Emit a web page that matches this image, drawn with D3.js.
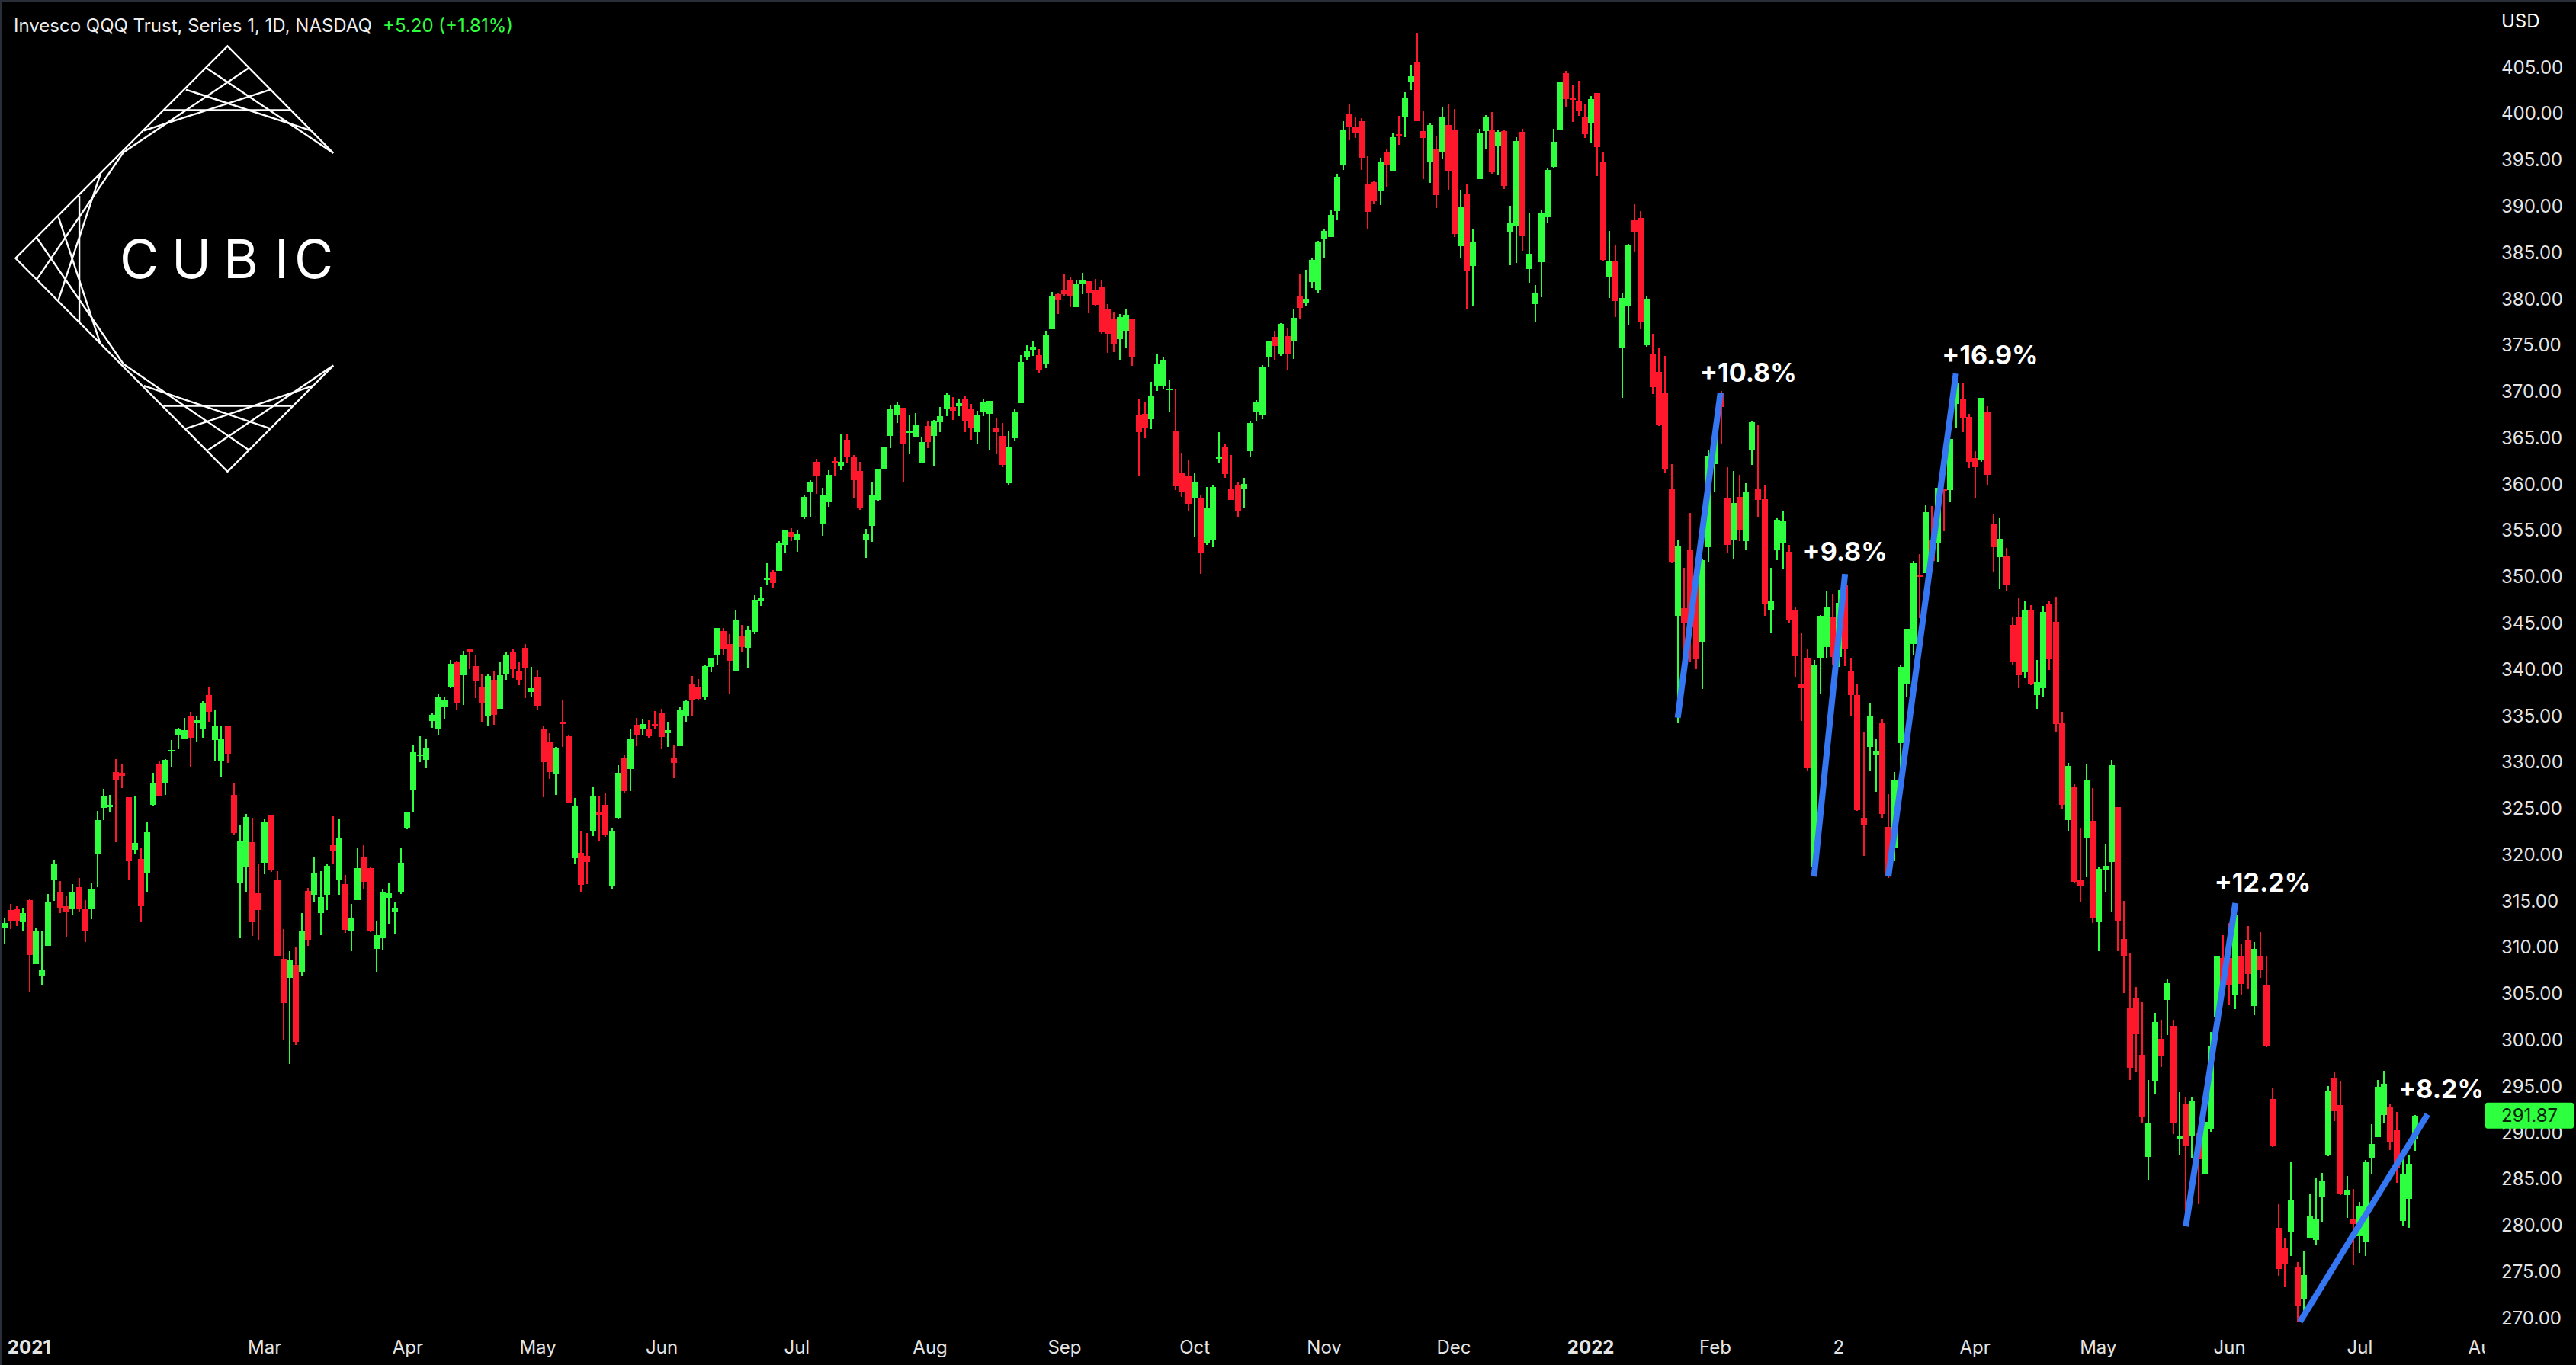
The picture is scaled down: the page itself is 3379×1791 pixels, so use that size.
<!DOCTYPE html>
<html>
<head>
<meta charset="utf-8">
<script src="https://cdn.jsdelivr.net/npm/d3@7"></script>
<style>
html,body{margin:0;padding:0;background:#000;}
svg{display:block;}
text{font-family:Inter,"Liberation Sans",sans-serif;}
</style>
</head>
<body>
<svg id="chart" width="3379" height="1791"></svg>
<script>
const titleText = "Invesco QQQ Trust, Series 1, 1D, NASDAQ";
const changeText = "+5.20 (+1.81%)";
const currency = "USD";
const lastPrice = 291.87;

const highs = [
313.15,314.71,314.47,314.21,315.29,312.15,311.83,315.82,319.41,317.17,
315.53,316.85,317.5,315.12,316.94,324.75,327.13,326.49,330.34,329.78,
326.22,326.4,320.73,323.52,328.87,330.19,330.34,332.39,333.71,334.77,
335.45,335.04,336.59,338.15,335.68,333.89,333.95,327.78,323.2,324.43,
324.02,319.08,323.93,324.34,318.26,312.0,309.62,310.03,313.74,316.44,
319.82,318.26,318.99,324.17,323.84,317.85,314.71,320.73,321.05,318.67,
312.91,316.35,317.03,314.88,320.73,324.67,331.83,332.8,332.48,335.27,
337.33,337.09,341.03,340.96,342.03,342.19,341.62,339.56,339.48,339.89,
340.79,341.94,342.19,340.87,342.77,340.3,339.97,333.89,333.13,331.66,
336.68,332.98,326.13,322.61,322.37,327.31,326.4,326.63,322.85,329.65,
330.82,333.65,334.79,334.6,334.53,335.52,335.78,334.38,331.81,336.04,
336.66,339.3,338.97,340.44,341.29,344.48,344.48,343.82,346.39,344.81,
344.66,348.04,348.92,351.49,350.72,353.88,355.02,355.28,355.09,358.91,
360.45,362.77,359.61,361.52,362.91,365.45,365.45,363.17,362.44,355.17,
360.27,361.59,363.98,368.5,368.94,368.28,367.43,367.69,365.12,366.88,
366.95,368.35,369.89,369.41,369.23,369.56,368.68,367.95,369.16,369.01,
367.17,366.62,365.71,368.17,373.94,375.01,375.42,374.6,376.58,380.77,
380.6,382.74,382.33,382.0,382.83,381.92,382.17,382.0,379.45,378.63,
378.38,378.88,377.89,369.23,368.83,371.07,374.02,373.75,371.23,370.33,
363.42,362.69,361.29,358.84,359.7,359.97,365.67,364.32,363.15,360.32,
360.67,366.88,369.09,372.86,375.5,376.55,377.4,376.93,378.84,382.76,
383.15,384.43,386.25,387.61,389.55,393.55,399.18,401.0,399.6,399.57,
395.41,392.77,395.26,396.19,397.97,399.76,402.32,405.27,408.73,400.27,
398.98,397.55,400.77,401.12,400.5,391.76,392.38,387.61,398.4,399.84,
400.19,398.28,398.32,390.06,397.47,398.4,389.24,381.51,389.55,394.17,
398.4,403.49,404.61,403.06,403.56,401.04,401.93,402.28,395.92,387.34,
385.79,380.7,385.98,390.25,389.47,380.35,376.24,374.68,373.87,362.17,
353.94,351.01,356.92,352.1,352.01,363.64,365.52,370.05,361.87,361.45,
361.03,360.15,366.78,366.45,359.98,351.01,356.33,357.09,353.48,346.81,
344.0,342.19,341.06,345.93,348.49,348.11,348.61,350.21,341.27,338.5,
333.21,336.36,332.46,334.6,326.59,328.93,340.43,344.42,351.76,352.47,
357.76,357.68,359.65,359.57,364.89,371.19,370.98,367.62,363.59,369.34,
368.46,356.71,356.33,353.1,345.72,347.69,347.48,346.98,341.06,346.85,
347.48,347.86,335.48,329.94,327.59,322.85,329.81,327.21,318.69,321.15,
330.25,325.15,315.02,309.36,305.75,304.09,295.73,302.95,302.2,306.55,
302.2,294.42,293.78,293.78,290.3,291.16,300.88,309.13,311.36,312.62,
314.62,310.33,312.33,310.62,311.65,309.01,294.87,282.28,278.62,286.82,
276.05,277.2,283.45,285.18,285.67,295.05,296.53,295.62,285.34,283.94,
282.54,287.07,290.93,295.71,296.69,293.07,292.25,287.23,287.56,291.89];

const lows = [
310.39,312.03,312.36,311.74,305.19,308.24,305.98,310.18,315.03,313.74,
311.18,313.56,313.88,310.59,313.06,316.53,323.76,324.67,321.38,327.22,
317.35,320.05,312.74,316.03,325.31,326.31,326.49,329.51,331.42,332.57,
329.51,332.16,332.66,334.36,330.19,328.37,329.92,322.2,311.0,315.94,
311.27,310.86,317.91,318.17,309.04,300.07,297.43,299.49,306.89,310.18,
314.88,311.33,314.06,319.08,315.71,311.59,309.62,315.12,316.35,311.68,
307.39,309.68,312.5,311.5,315.79,322.79,324.67,330.01,329.37,333.71,
332.89,334.71,338.0,335.68,336.18,340.05,336.93,334.36,333.95,334.04,
335.77,338.9,339.15,338.33,336.93,337.01,335.68,326.22,328.19,326.49,
331.66,325.58,318.99,316.03,316.85,322.02,321.46,321.96,316.28,323.85,
326.63,326.89,331.74,332.95,332.66,333.65,331.41,331.67,328.29,331.74,
334.38,335.04,336.66,336.77,339.71,340.44,341.54,337.43,339.89,341.87,
340.15,343.82,346.87,349.18,348.85,350.65,352.63,353.88,352.71,356.27,
356.49,358.99,354.43,357.55,360.86,361.52,362.25,358.47,357.22,352.05,
353.77,358.14,361.67,363.91,366.62,360.2,363.25,365.12,362.33,363.91,
362.0,365.63,367.36,366.95,367.36,365.63,364.82,364.31,367.36,363.72,
363.25,361.85,359.94,364.71,368.76,373.37,373.86,371.97,372.54,376.74,
378.38,380.36,379.12,379.12,380.52,378.47,379.21,376.25,374.19,374.27,
373.37,374.68,372.79,360.93,365.01,365.96,370.06,370.26,367.77,359.39,
358.61,357.06,354.38,350.34,353.49,353.18,362.26,360.67,358.3,356.52,
357.41,362.98,366.88,367.03,372.7,373.44,373.87,372.39,373.52,377.9,
379.26,381.17,380.7,384.46,386.68,388.5,393.94,397.16,397.35,393.94,
387.53,390.25,390.13,392.11,393.74,396.65,397.47,402.56,399.18,392.93,
392.54,389.82,395.18,391.8,386.68,384.39,378.87,379.3,392.93,396.23,
393.51,393.36,391.88,383.65,383.88,385.2,381.75,377.48,380.19,388.27,
394.17,398.21,400.77,399.1,399.76,397.39,396.89,393.28,384.08,380.12,
378.06,369.32,377.25,385.05,376.74,374.88,369.75,366.26,361.21,351.47,
334.18,340.77,340.77,340.05,337.91,351.59,359.15,364.35,352.52,352.01,
353.9,352.85,362.08,356.5,345.8,343.91,351.8,350.79,345.0,339.21,
334.43,329.14,318.02,337.41,341.31,340.56,340.26,340.35,334.98,324.74,
319.91,329.1,326.79,323.98,317.48,319.28,329.02,337.07,341.52,345.59,
350.42,351.68,351.63,354.95,358.1,366.03,365.61,361.75,358.6,362.46,
359.94,350.59,348.7,348.53,340.56,337.99,339.09,338.29,335.77,337.07,
339.97,333.26,324.95,322.51,316.93,314.96,317.56,312.62,309.58,315.94,
313.88,309.58,305.06,295.73,296.53,291.04,284.97,294.13,297.11,300.54,
289.84,287.6,279.93,287.26,282.28,285.54,290.12,302.49,305.46,303.75,
303.34,304.89,305.58,302.72,306.72,299.28,288.46,274.55,273.35,276.68,
269.55,269.96,278.6,277.91,280.32,287.48,291.26,283.31,280.82,275.72,
277.03,276.7,285.59,289.54,291.1,288.14,284.6,280.0,279.75,288.06];

const opens = [
312.15,314.06,314.15,312.74,315.12,308.24,306.89,310.18,317.26,315.94,
314.47,314.15,316.53,314.15,314.15,320.05,325.08,325.17,328.96,328.87,
326.22,320.55,319.55,317.99,325.4,329.84,327.72,331.16,332.98,332.57,
334.95,334.21,333.63,337.24,332.39,330.19,333.89,326.49,316.94,318.67,
321.38,315.85,319.14,324.25,317.26,308.8,306.74,308.12,307.39,316.12,
315.71,313.74,315.71,321.05,317.35,316.85,311.74,315.12,319.73,318.58,
309.86,311.0,315.38,313.8,316.03,322.93,327.05,330.66,330.25,334.45,
333.63,335.95,338.15,340.87,339.39,342.19,340.38,338.16,335.04,338.9,
335.77,339.56,341.94,339.81,342.36,337.58,339.23,333.54,332.25,328.69,
334.36,332.8,319.64,320.23,319.91,322.52,324.58,325.4,316.61,323.99,
330.42,329.28,334.05,333.54,333.65,334.13,335.26,333.13,330.49,331.74,
334.93,338.38,338.17,337.1,340.3,341.62,344.15,342.76,339.89,343.67,
342.35,344.08,347.42,349.66,350.5,350.65,353.44,354.84,353.96,356.42,
359.21,362.44,355.68,358.07,362.51,361.92,364.82,362.99,361.45,353.96,
355.5,358.32,361.67,365.23,367.43,368.28,365.56,365.12,362.33,366.29,
365.23,366.7,368.09,368.35,368.42,369.23,368.17,365.63,367.84,367.61,
366.11,365.23,360.12,364.97,368.76,373.78,374.52,373.94,373.04,376.74,
380.52,381.0,382.0,379.12,381.59,381.92,381.0,381.26,378.96,377.89,
375.67,376.57,377.81,367.43,367.61,367.03,370.65,370.57,370.14,365.72,
361.21,360.94,358.57,358.57,353.64,354.03,362.76,364.08,359.54,359.89,
359.47,363.58,367.77,367.54,373.71,375.93,374.1,376.0,375.5,380.27,
379.54,381.83,381.01,386.52,386.68,389.47,394.44,400.03,398.63,399.18,
392.46,392.62,391.72,395.92,393.78,397.78,399.68,403.41,405.62,398.13,
394.83,396.15,395.84,398.79,398.29,385.71,391.3,383.57,392.93,398.13,
398.32,396.58,398.09,387.26,387.88,398.05,383.22,379.46,383.96,388.81,
394.25,398.21,404.38,401.74,401.35,399.68,398.95,402.24,394.75,382.33,
384.08,374.8,379.3,388.5,388.74,375.03,374.02,372.12,369.83,359.48,
345.8,346.64,352.89,349.58,343.0,353.19,362.17,369.8,358.56,354.03,
358.64,353.9,363.72,359.57,358.39,346.39,352.85,353.69,352.73,346.39,
338.5,341.31,318.74,341.27,342.44,345.72,341.4,349.16,339.8,337.24,
324.03,331.66,330.82,334.31,323.06,320.84,332.08,338.37,342.74,350.21,
350.42,354.03,353.69,359.57,359.36,368.67,369.26,367.29,362.84,362.67,
367.87,355.7,352.14,352.31,344.84,345.72,339.72,346.47,337.24,337.96,
347.14,345.17,334.31,323.73,327.42,317.23,321.8,323.67,312.73,318.4,
319.26,325.15,310.9,303.46,304.49,298.42,287.38,295.62,300.14,304.32,
301.57,289.26,293.1,289.61,290.01,285.6,290.35,302.49,308.9,308.9,
304.83,309.01,310.73,303.69,309.01,305.92,293.67,279.71,277.53,279.34,
275.55,272.1,278.68,278.43,283.12,287.64,295.95,292.99,283.28,280.73,
278.84,278.18,287.23,289.54,291.96,292.83,290.28,280.49,282.87,289.29];

const closes = [
312.65,312.91,312.91,313.74,309.21,311.83,307.57,314.97,319.0,314.29,
313.8,316.03,314.15,311.74,316.35,323.76,326.31,325.4,328.05,328.54,
319.32,321.29,314.47,322.43,327.72,326.31,330.25,331.34,333.54,333.48,
332.66,334.54,336.42,335.45,333.95,332.48,330.92,322.37,321.46,324.08,
312.74,314.06,323.61,318.32,309.04,304.01,308.62,299.81,311.74,310.77,
318.0,315.44,318.82,320.46,321.88,311.91,313.15,318.58,317.09,311.74,
311.33,316.03,315.85,314.29,319.14,324.58,331.07,330.84,331.57,335.12,
337.09,336.68,340.62,336.42,341.62,341.94,338.82,336.36,339.31,335.13,
339.39,341.62,340.05,338.9,340.13,337.99,336.09,330.01,328.96,331.48,
334.13,325.66,325.31,316.76,319.23,326.4,324.34,322.11,322.6,328.88,
326.89,332.47,332.88,334.13,332.8,333.91,332.73,333.47,329.94,335.6,
336.59,336.66,336.81,340.37,341.21,344.48,342.2,340.96,345.33,342.46,
344.33,347.53,347.71,349.95,349.33,353.7,355.02,354.36,354.62,358.66,
360.2,360.86,358.8,361.0,362.29,362.44,362.99,360.45,357.48,354.69,
358.8,361.59,363.98,368.17,368.5,364.31,365.74,366.44,364.57,364.57,
366.77,367.36,369.67,367.95,368.75,366.77,366.11,367.56,368.83,369.01,
365.63,362.11,363.98,367.76,373.2,374.35,374.85,372.38,376.08,380.28,
379.87,380.52,380.36,381.59,382.09,380.69,379.37,376.49,376.25,375.18,
378.06,378.3,373.78,365.63,366.04,369.56,372.97,373.36,370.33,359.81,
359.23,357.91,360.2,352.56,357.41,359.7,362.98,361.09,358.3,357.1,
360.05,366.61,368.94,372.63,375.5,374.92,377.32,374.02,377.98,379.03,
380.04,384.23,386.17,387.38,389.09,393.2,398.21,398.56,397.97,395.26,
389.4,390.56,394.75,394.52,397.47,397.55,401.74,404.03,399.18,397.39,
398.79,391.18,399.68,393.78,387.03,389.9,383.07,386.21,397.9,399.6,
393.7,398.05,392.19,388.19,397.04,386.79,384.89,380.7,389.24,393.94,
396.97,403.49,401.58,401.51,400.26,397.78,401.62,396.38,384.23,384.08,
379.77,380.12,385.86,387.26,377.56,380.04,370.49,366.37,361.6,351.63,
353.31,345.09,344.54,341.1,351.8,363.09,365.1,368.38,353.48,357.97,
355.03,359.15,366.7,358.35,347.02,347.48,356.21,356.0,345.42,341.44,
338.0,329.39,340.47,345.8,346.81,341.4,347.19,342.24,337.29,324.82,
323.27,334.98,331.24,324.4,317.77,328.14,340.31,344.42,351.51,350.04,
357.0,351.76,359.65,359.31,364.89,370.98,367.08,362.46,361.83,369.34,
361.03,353.23,354.11,349.12,340.85,339.42,346.39,338.38,338.67,346.22,
341.14,334.1,325.37,329.61,317.06,316.72,328.01,313.19,318.51,318.8,
329.68,312.93,309.13,297.05,300.66,291.73,291.1,301.97,298.37,306.15,
291.04,289.61,288.58,293.44,287.15,291.16,299.34,309.13,306.04,305.92,
313.48,306.09,307.12,309.87,307.52,299.4,288.64,275.3,275.81,282.79,
271.27,274.65,281.06,280.65,284.85,294.55,292.33,283.45,283.78,280.16,
282.13,286.9,288.8,294.96,295.29,288.96,286.22,285.59,286.66,291.87];

const priceTicks = [270,275,280,285,290,295,300,305,310,315,320,325,330,335,340,345,350,355,360,365,370,375,380,385,390,395,400,405];
const timeTickLabels = ["2021","Mar","Apr","May","Jun","Jul","Aug","Sep","Oct","Nov","Dec","2022","Feb","2","Apr","May","Jun","Jul","Aug"];
const timeTickIndex  = [3.9,41.9,65,86,106,127.8,149.3,171,192,212.9,233.8,255.9,276,295.9,317.9,337.8,359,380,400.3];
const boldTimeLabels = ["2021","2022"];

const trendStartIndex = [270,292,304,352,370.4];
const trendStartPrice = [334.8,317.67,317.67,279.9,269.6];
const trendEndIndex   = [276.9,297,314.9,360,391];
const trendEndPrice   = [369.9,350.33,371.96,314.8,292];
const gainLabels = ["+10.8%","+9.8%","+16.9%","+12.2%","+8.2%"];
const gainLabelIndex = [281.4,297,320.4,364.4,393.2];
const gainLabelPrice = [372.1,352.7,374,317,294.7];

const GREEN="#2EFF3E", RED="#FF172C", BLUE="#3576F3", AXIS="#E4E4E4";
const paneRight=3260, paneBottom=1737;

const svg=d3.select("#chart");
svg.append("rect").attr("width",3379).attr("height",1791).attr("fill","#000");
svg.append("rect").attr("width",3379).attr("height",2).attr("fill","#2A2E39");
svg.append("rect").attr("width",3).attr("height",1791).attr("fill","#2A2E39");

const x=d3.scaleLinear().domain([0,389]).range([6,3168]);
const y=d3.scaleLinear().domain([270,405]).range([1729.5,88.5]);
const idx=d3.range(closes.length);

const defs=svg.append("defs");
defs.append("clipPath").attr("id","pane").append("rect").attr("x",3).attr("y",2).attr("width",paneRight-3).attr("height",paneBottom-2);
defs.append("clipPath").attr("id","priceClip").append("rect").attr("x",paneRight).attr("y",0).attr("width",119).attr("height",paneBottom);
defs.append("clipPath").attr("id","timeClip").append("rect").attr("x",0).attr("y",paneBottom).attr("width",paneRight).attr("height",54);

const pane=svg.append("g").attr("clip-path","url(#pane)");
const color=i=>closes[i]>=opens[i]?GREEN:RED;

// Logo: the string-art mark, measured as points on a 1568-wide crop.
const sx=v=>v/1.96, sy=v=>v/2.45;
const logoEdges=[
 [[857,492],[585,148],[40,830],[585,1516],[857,1175]],
];
const logoSegs=[
 [857,492,530,218],[800,420,478,288],[748,354,420,354],[695,288,370,420],[640,218,317,490],
 [204,630,204,1035],[150,697,258,1105],[95,765,317,1170],[258,560,150,965],[317,490,95,897],
 [857,1175,535,1447],[805,1240,478,1378],[750,1305,420,1305],[695,1378,370,1240],[640,1447,317,1170]
];
const logo=svg.append("g").attr("fill","none").attr("stroke","#fff").attr("stroke-width",2.4);
logo.selectAll("path").data(logoEdges).join("path")
  .attr("d",d=>d3.line().x(p=>sx(p[0])).y(p=>sy(p[1]))(d)).attr("stroke-linejoin","miter");
logo.selectAll("line").data(logoSegs).join("line")
  .attr("x1",d=>sx(d[0])).attr("y1",d=>sy(d[1])).attr("x2",d=>sx(d[2])).attr("y2",d=>sy(d[3]));
svg.append("text").attr("x","157 225 293 360 386").attr("y",365)
  .attr("font-size",70).attr("font-weight",400).attr("fill","#fff").text("CUBIC");

// Candles
pane.append("g").attr("shape-rendering","crispEdges").selectAll("rect").data(idx).join("rect")
  .attr("x",i=>Math.round(x(i))-1).attr("width",2)
  .attr("y",i=>y(highs[i])).attr("height",i=>y(lows[i])-y(highs[i]))
  .attr("fill",color);
pane.append("g").attr("shape-rendering","crispEdges").selectAll("rect").data(idx).join("rect")
  .attr("x",i=>Math.round(x(i))-4).attr("width",8)
  .attr("y",i=>y(Math.max(opens[i],closes[i])))
  .attr("height",i=>Math.max(2,Math.abs(y(opens[i])-y(closes[i]))))
  .attr("fill",color);

// Trend lines
const trendLine=d3.line().x(d=>x(d[0])).y(d=>y(d[1]));
pane.append("g").selectAll("path").data(trendStartIndex.map((_,k)=>k)).join("path")
  .attr("d",k=>trendLine([[trendStartIndex[k],trendStartPrice[k]],[trendEndIndex[k],trendEndPrice[k]]]))
  .attr("fill","none").attr("stroke",BLUE).attr("stroke-width",8);

// Gain labels
svg.append("g").selectAll("text").data(gainLabels).join("text")
  .attr("x",(d,k)=>x(gainLabelIndex[k])).attr("y",(d,k)=>y(gainLabelPrice[k]))
  .attr("dy","0.36em").attr("text-anchor","middle").attr("font-size",34).attr("font-weight",700)
  .attr("fill","#fff").text(d=>d);

// Price axis
const priceAxis=d3.axisRight(y).tickValues(priceTicks).tickFormat(d3.format(".2f")).tickSize(0).tickPadding(0);
const pg=svg.append("g").attr("clip-path","url(#priceClip)").append("g").attr("transform","translate(3281,0)").call(priceAxis);
pg.select(".domain").remove();
pg.selectAll("text").attr("font-size",24).attr("fill",AXIS).attr("font-family",'Inter,"Liberation Sans",sans-serif');

// Time axis
const timeAxis=d3.axisBottom(x).tickValues(timeTickIndex).tickFormat((d,i)=>timeTickLabels[i]).tickSize(0).tickPadding(0);
const tg=svg.append("g").attr("clip-path","url(#timeClip)").append("g").attr("transform","translate(0,1767)").call(timeAxis);
tg.select(".domain").remove();
tg.selectAll("text").attr("dy","0.36em").attr("y",0).attr("font-size",24)
  .attr("font-family",'Inter,"Liberation Sans",sans-serif')
  .attr("font-weight",(d,i)=>boldTimeLabels.includes(timeTickLabels[i])?700:400)
  .attr("fill",AXIS);

// Last price tag
svg.append("rect").attr("x",paneRight).attr("y",y(lastPrice)-17).attr("width",116).attr("height",34).attr("rx",3).attr("fill",GREEN);
svg.append("text").attr("x",3281).attr("y",y(lastPrice)).attr("dy","0.36em").attr("font-size",24).attr("fill","#06240A").text(d3.format(".2f")(lastPrice));

// Header
svg.append("text").attr("x",3281).attr("y",27).attr("dy","0.36em").attr("font-size",24).attr("fill","#fff").text(currency);
svg.append("text").attr("x",18).attr("y",33).attr("dy","0.36em").attr("font-size",24).attr("fill","#EDEDED").text(titleText);
svg.append("text").attr("x",502).attr("y",33).attr("dy","0.36em").attr("font-size",24).attr("fill",GREEN).text(changeText);
</script>
</body>
</html>
